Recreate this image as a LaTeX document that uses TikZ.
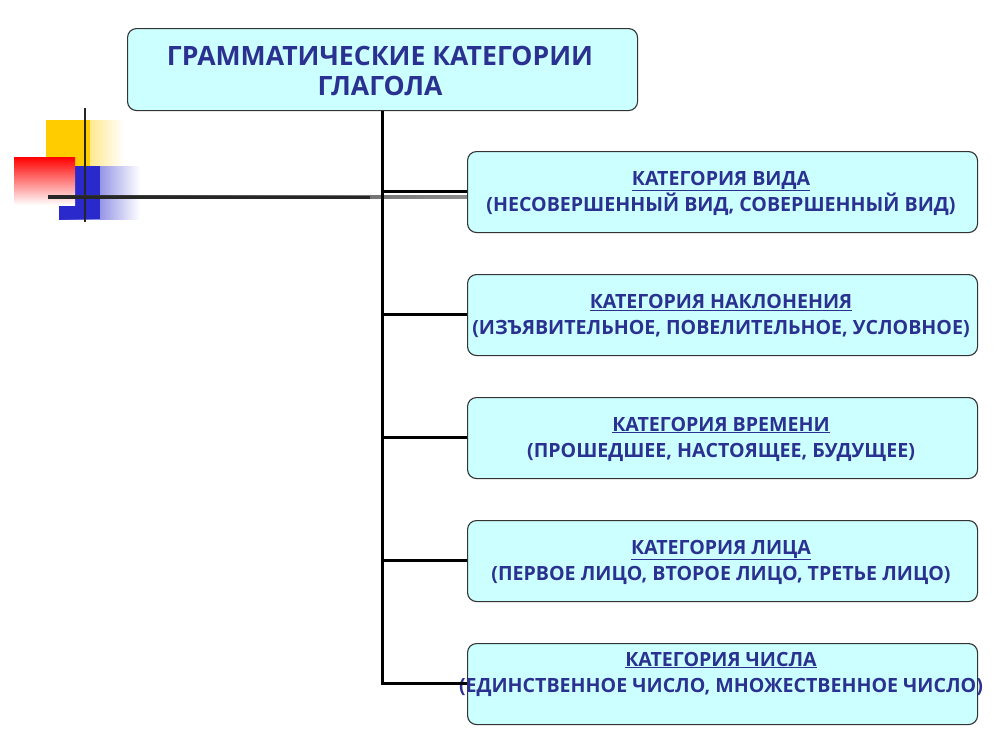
\documentclass[tikz,border=0pt]{standalone}
\usepackage{fontspec}
\setmainfont{Open Sans}
\usetikzlibrary{positioning}
\definecolor{boxfill}{HTML}{CCFFFF}
\definecolor{txt}{HTML}{2B3190}
\definecolor{gold}{HTML}{FFCC00}
\definecolor{dblue}{HTML}{2A2ACC}
\tikzset{
  catbox/.style={draw=black!80, line width=1.1pt, fill=boxfill, rounded corners=9pt,
    minimum width=510pt, minimum height=81pt, anchor=north west, inner sep=0pt},
  cattext/.style={text=txt, font=\fontsize{19.6}{26}\selectfont\bfseries, align=center, inner sep=0pt},
  conn/.style={line width=3pt, black},
}
\begin{document}
\begin{tikzpicture}[x=1pt,y=-1pt]
\useasboundingbox (0,0) rectangle (1000,750);
% decoration
\shade[left color=gold, right color=white] (46,120) rectangle (124,192);
\fill[gold] (46,120) rectangle (90,192);
\shade[left color=dblue, right color=white] (59,166) rectangle (140,219);
\fill[dblue] (59,166) rectangle (100,219);
\shade[shading angle=60, top color=red, bottom color=white] (14,157) rectangle (75,205);
\draw[line width=2.8pt, black!85] (85,108) -- (85,222);
\shade[left color=black!85, right color=black!45] (48,195.5) rectangle (468,198.5);
\fill[black!85] (48,195.5) rectangle (370,198.5);
% top box
\node[catbox, minimum height=82pt] (top) at (127,28) {};
\node[cattext, font=\fontsize{26.6}{30}\selectfont\bfseries] (toptxt) at (380,71) {ГРАММАТИЧЕСКИЕ КАТЕГОРИИ\\ГЛАГОЛА};
% category boxes
\node[catbox] (b1) at (467,151) {};
\node[catbox] (b2) at (467,274) {};
\node[catbox] (b3) at (467,397) {};
\node[catbox] (b4) at (467,520) {};
\node[catbox] (b5) at (467,643) {};
\node[cattext] (t1) at (721,193) {\underline{КАТЕГОРИЯ ВИДА}\\(НЕСОВЕРШЕННЫЙ ВИД, СОВЕРШЕННЫЙ ВИД)};
\node[cattext] (t2) at (721,316) {\underline{КАТЕГОРИЯ НАКЛОНЕНИЯ}\\(ИЗЪЯВИТЕЛЬНОЕ, ПОВЕЛИТЕЛЬНОЕ, УСЛОВНОЕ)};
\node[cattext] (t3) at (721,439) {\underline{КАТЕГОРИЯ ВРЕМЕНИ}\\(ПРОШЕДШЕЕ, НАСТОЯЩЕЕ, БУДУЩЕЕ)};
\node[cattext] (t4) at (721,562) {\underline{КАТЕГОРИЯ ЛИЦА}\\(ПЕРВОЕ ЛИЦО, ВТОРОЕ ЛИЦО, ТРЕТЬЕ ЛИЦО)};
\node[cattext] (t5) at (721,674) {\underline{КАТЕГОРИЯ ЧИСЛА}\\(ЕДИНСТВЕННОЕ ЧИСЛО, МНОЖЕСТВЕННОЕ ЧИСЛО)};
% connectors
\coordinate (trunk) at (382,683);
\draw[conn] (top.south -| trunk) -- ([yshift=-1.5pt]trunk);
\draw[conn] (382,191) -- (b1.west |- 382,191);
\draw[conn] (382,314) -- (b2.west |- 382,314);
\draw[conn] (382,437) -- (b3.west |- 382,437);
\draw[conn] (382,560) -- (b4.west |- 382,560);
\draw[conn] (380.5,683) -- (b5.west |- 382,683);
\end{tikzpicture}
\end{document}
